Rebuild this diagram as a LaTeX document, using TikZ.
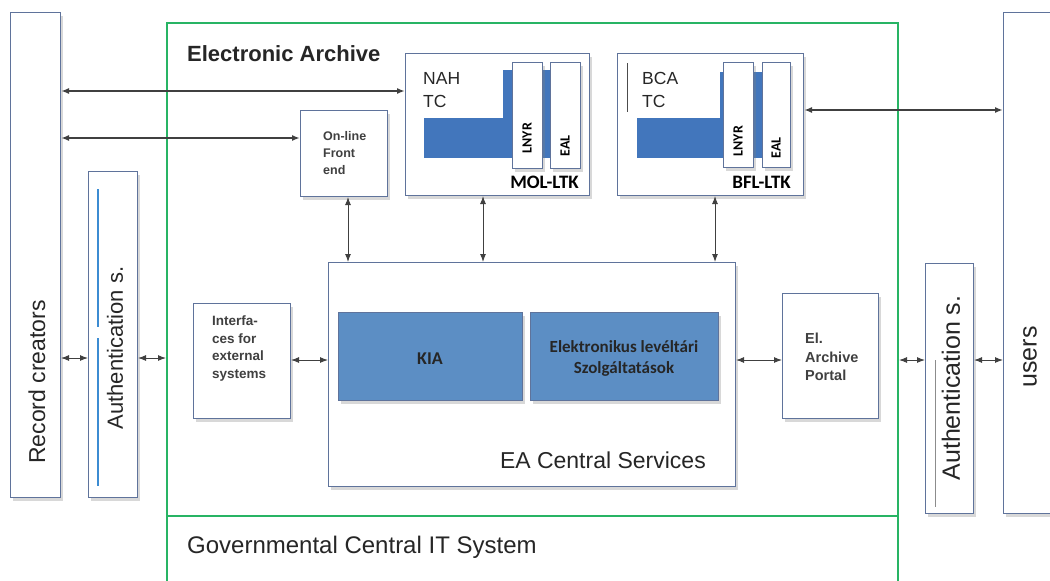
\documentclass[tikz,border=0pt]{standalone}
\usepackage{fontspec}
\setmainfont{Liberation Sans}
\newfontfamily\carlito{Carlito}
\usetikzlibrary{arrows.meta,shadows}

\definecolor{boxline}{RGB}{95,115,155}
\definecolor{eagreen}{RGB}{40,180,100}
\definecolor{tcblue}{RGB}{66,118,188}
\definecolor{kiablue}{RGB}{92,142,196}
\definecolor{authblue}{RGB}{60,140,210}

\tikzset{
  sbox/.style={rectangle, draw=boxline, line width=1pt, fill=white, inner sep=0pt, anchor=north west,
    drop shadow={shadow xshift=2.5pt, shadow yshift=-3pt, opacity=0.3}},
  gbox/.style={rectangle, draw=eagreen, line width=2pt, inner sep=0pt, anchor=north west},
  twoway/.style={{Latex[length=8pt,width=6pt]}-{Latex[length=8pt,width=6pt]}, draw=black!75, line width=1pt},
  longway/.style={twoway, line width=1.8pt},
  bigtxt/.style={font=\fontsize{23}{26}\selectfont, text=black!85, inner sep=0pt},
  smalltxt/.style={font=\fontsize{13.5}{17.5}\selectfont\bfseries, text=black!75, align=left, anchor=north west, inner sep=0pt},
  ltktxt/.style={font=\carlito\fontsize{19}{21}\selectfont\bfseries, inner sep=0pt},
  slimtxt/.style={font=\carlito\fontsize{14}{16}\selectfont\bfseries, rotate=90, inner sep=0pt},
}

\begin{document}
\begin{tikzpicture}[x=1pt,y=1pt,yscale=-1,xscale=1]
\useasboundingbox (0,0) rectangle (1050,581);
\fill[white] (0,0) rectangle (1050,581);

%Frames: Electronic Archive and Governmental system
\node[gbox, minimum width=731pt, minimum height=493pt] (ea) at (166,22) {};
\node[gbox, minimum width=731pt, minimum height=80pt] (gov) at (166,515) {};
% Text Node
\node[font=\fontsize{22}{24}\selectfont\bfseries, text=black!85, anchor=base west, inner sep=0pt] (eatitle) at (187,61) {Electronic Archive};
% Text Node
\node[font=\fontsize{24}{26}\selectfont, text=black!85, anchor=base west, inner sep=0pt] (govtitle) at (187,553) {Governmental Central IT System};

%Outer columns
\node[sbox, minimum width=50pt, minimum height=485pt] (rec) at (10,12) {};
\node[sbox, minimum width=49pt, minimum height=326pt] (authl) at (88,171) {};
\node[sbox, minimum width=48pt, minimum height=250pt] (autr) at (925,263) {};
\node[sbox, minimum width=60pt, minimum height=501pt] (users) at (1003,12) {};
\draw[authblue, line width=2pt] (98,189) -- (98,327);
\draw[authblue, line width=2pt] (98,338) -- (98,486);
\draw[black!45, line width=1pt] (935,360) -- (935,507);
% Text Node
\node[bigtxt, rotate=90] (rect) at (37,382) {Record creators};
\node[bigtxt, font=\fontsize{22}{24}\selectfont, rotate=90] (authlt) at (115,348) {Authentication s.};
\node[bigtxt, font=\fontsize{25}{27}\selectfont, rotate=90] (autrt) at (951,388) {Authentication s.};
\node[bigtxt, font=\fontsize{25}{27}\selectfont, rotate=90] (userst) at (1030,357) {users};

%MOL-LTK
\node[sbox, minimum width=184pt, minimum height=142pt] (nah) at (405,53) {};
\fill[tcblue] (424,70) rectangle (550,158);
\fill[white] (420,57) rectangle (503,118);
\node[sbox, minimum width=30pt, minimum height=106pt] (lnyra) at (512,62) {};
\node[sbox, minimum width=30pt, minimum height=106pt] (eala) at (550,62) {};
\node[font=\fontsize{17.5}{23}\selectfont, text=black!85, align=left, anchor=north west, inner sep=0pt] (naht) at (423,72) {NAH\\TC};
\node[slimtxt] (lnyrat) at (527,138) {LNYR};
\node[slimtxt] (ealat) at (565,146) {EAL};
\node[ltktxt, anchor=base east] (molt) at (579,188) {MOL-LTK};

%BFL-LTK
\node[sbox, minimum width=186pt, minimum height=142pt] (bca) at (617,53) {};
\fill[tcblue] (637,72) rectangle (762,158);
\fill[white] (628,56) rectangle (720,118);
\draw[black!70, line width=1pt] (627,63) -- (627,112);
\node[sbox, minimum width=30pt, minimum height=105pt] (lnyrb) at (723,62) {};
\node[sbox, minimum width=28pt, minimum height=105pt] (ealb) at (762,62) {};
\node[font=\fontsize{17.5}{23}\selectfont, text=black!85, align=left, anchor=north west, inner sep=0pt] (bcat) at (642,72) {BCA\\TC};
\node[slimtxt] (lnyrbt) at (738,141) {LNYR};
\node[slimtxt] (ealbt) at (776,148) {EAL};
\node[ltktxt, anchor=base east] (bflt) at (791,188) {BFL-LTK};

%Front end
\node[sbox, minimum width=87pt, minimum height=86pt] (fe) at (300,110) {};
\node[smalltxt, font=\fontsize{12.5}{17}\selectfont\bfseries] (fet) at (323,131) {On-line\\Front\\end};

%EA Central Services
\node[sbox, minimum width=407pt, minimum height=224pt] (eacs) at (328,262) {};
\node[sbox, fill=kiablue, minimum width=184pt, minimum height=88pt] (kia) at (338,312) {};
\node[sbox, fill=kiablue, minimum width=188pt, minimum height=88pt] (elek) at (530,312) {};
\node[font=\carlito\fontsize{18}{20}\selectfont\bfseries, text=black!85, inner sep=0pt] (kiat) at (430,359) {KIA};
\node[font=\carlito\fontsize{17}{21}\selectfont\bfseries, text=black!85, align=center, inner sep=0pt] (elekt) at (624,358) {Elektronikus levéltári\\Szolgáltatások};
\node[bigtxt, anchor=base east] (eacst) at (706,468) {EA Central Services};

%Interfaces and portal
\node[sbox, minimum width=97pt, minimum height=115pt] (ifc) at (193,303) {};
\node[smalltxt] (ifct) at (212,316) {Interfa-\\ces for\\external\\systems};
\node[sbox, minimum width=96pt, minimum height=125pt] (portal) at (782,293) {};
\node[smalltxt, font=\fontsize{14.5}{18.5}\selectfont\bfseries] (portalt) at (805,333) {El.\\Archive\\Portal};

%Straight Lines
\draw[longway] (rec.east |- 0,91) -- (nah.west |- 0,91);
\draw[longway] (rec.east |- 0,138) -- (fe.west |- 0,138);
\draw[longway] (bca.east |- 0,110) -- (users.west |- 0,110);
\draw[twoway] (fe.south -| 348,0) -- (eacs.north -| 348,0);
\draw[twoway] (nah.south -| 483,0) -- (eacs.north -| 483,0);
\draw[twoway] (bca.south -| 715,0) -- (eacs.north -| 715,0);
\draw[twoway] (ifc.east |- 0,360) -- (eacs.west |- 0,360);
\draw[twoway] (eacs.east |- 0,360) -- (portal.west |- 0,360);
\draw[twoway] (rec.east |- 0,358) -- (authl.west |- 0,358);
\draw[twoway] (authl.east |- 0,358) -- (ea.west |- 0,358);
\draw[twoway] (ea.east |- 0,360) -- (autr.west |- 0,360);
\draw[twoway] (autr.east |- 0,360) -- (users.west |- 0,360);

\end{tikzpicture}
\end{document}
